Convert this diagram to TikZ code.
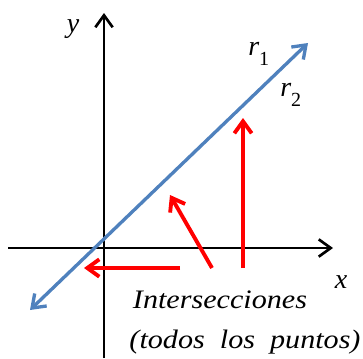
\documentclass[tikz,border=0pt]{standalone}
\usepackage{fontspec}
\setmainfont{Liberation Serif}
\usetikzlibrary{arrows.meta}

\begin{document}
\begin{tikzpicture}[x=0.75pt, y=-0.75pt, >={Straight Barb[length=9pt, width=13pt]}]
\definecolor{lineblue}{RGB}{79, 129, 189}
\definecolor{pointred}{RGB}{255, 0, 0}
\tikzset{axis/.style={->, black, line width=2pt},
  line arrow/.style={<->, lineblue, line width=2.5pt},
  mark arrow/.style={->, pointred, line width=2.9pt},
  lbl/.style={font=\fontsize{21}{26}\selectfont\itshape, inner sep=0pt},
  note/.style={font=\fontsize{20}{24}\selectfont\itshape, inner sep=0pt}}
\useasboundingbox (0,0) rectangle (363,358);
% Axes
\coordinate (xstart) at (8,248);
\coordinate (xend) at (333,248);
\coordinate (ystart) at (104,358);
\coordinate (yend) at (104,13);
\draw[axis] (xstart) -- (xend);
\draw[axis] (ystart) -- (yend);
\node[lbl] (xlabel) at (341,282) {x};
\node[lbl] (ylabel) at (73,29) {y};
% The line r1 = r2
\coordinate (rlow) at (30,310);
\coordinate (rhigh) at (308,43);
\draw[line arrow] (rlow) -- (rhigh);
\node[lbl, anchor=base west] (rone) at (248,55) {r\raisebox{-7.5pt}{\fontsize{15}{15}\selectfont\upshape 1}};
\node[lbl, anchor=base west] (rtwo) at (280,96) {r\raisebox{-8pt}{\fontsize{15}{15}\selectfont\upshape 2}};
% Intersections
\node[note, anchor=base] (inter) at (220,308) {\scalebox{1.13}[1]{Intersecciones}};
\node[note, anchor=base] (todos) at (245,348) {\scalebox{1.13}[1]{(todos\hspace{0.25em} los\hspace{0.25em} puntos)}};
\coordinate (upfoot) at (243,268);
\coordinate (uptip) at (243,118);
\coordinate (diagfoot) at (212,268);
\coordinate (diagtip) at (170,195);
\coordinate (leftfoot) at (180,268);
\coordinate (lefttip) at (84,268);
\draw[mark arrow] (upfoot) -- (uptip);
\draw[mark arrow] (diagfoot) -- (diagtip);
\draw[mark arrow] (leftfoot) -- (lefttip);
\end{tikzpicture}
\end{document}
